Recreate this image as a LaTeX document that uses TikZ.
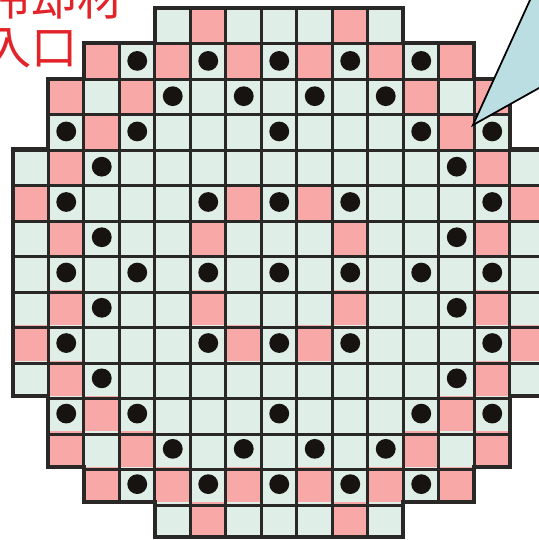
\documentclass[tikz,border=0pt]{standalone}
\usepackage{fontspec}
\usepackage{xcolor}
\usepackage{tikz}
\newfontfamily\jpfont{Noto Sans CJK JP}
\definecolor{cellgreen}{RGB}{223, 239, 232}
\definecolor{cellpink}{RGB}{249, 168, 168}
\definecolor{inkdark}{RGB}{42, 40, 38}
\definecolor{dotblack}{RGB}{22, 19, 17}
\definecolor{callblue}{RGB}{187, 222, 226}
\definecolor{labelred}{RGB}{226, 36, 42}
\tikzset{
    cell/.style   ={fill=cellgreen},
    hot/.style    ={fill=cellpink},
    gridln/.style ={draw=inkdark, line width=2.4pt},
    rim/.style    ={draw=inkdark, line width=3.2pt, line join=miter},
    rod/.style    ={fill=dotblack},
    callout/.style={fill=callblue, draw=black, line width=1.4pt, line join=miter},
    lbl/.style    ={font=\jpfont\fontsize{37}{39}\selectfont, text=labelred,
                    inner sep=0pt, align=left}
}
% outline of the core, one unit per cell
\newcommand{\coreoutline}{(4,0) -- (11,0) -- (11,-1) -- (13,-1) -- (13,-2) -- (14,-2)
  -- (14,-4) -- (15,-4) -- (15,-11) -- (14,-11) -- (14,-13) -- (13,-13) -- (13,-14)
  -- (11,-14) -- (11,-15) -- (4,-15) -- (4,-14) -- (2,-14) -- (2,-13) -- (1,-13)
  -- (1,-11) -- (0,-11) -- (0,-4) -- (1,-4) -- (1,-2) -- (2,-2) -- (2,-1) -- (4,-1) -- cycle}

\begin{document}
\begin{tikzpicture}[x=1cm, y=0.9935cm]
  \useasboundingbox (-0.366,0.227) rectangle (14.817,-15.084);
  \clip (-0.366,0.227) rectangle (14.817,-15.084);

  % ---- cells
  \fill[cell] \coreoutline;
  \foreach \c/\r in {5/0,9/0, 2/1,4/1,6/1,8/1,10/1,12/1, 1/2,3/2,11/2,13/2,
                     2/3,12/3, 1/4,13/4, 0/5,6/5,8/5,14/5, 1/6,5/6,9/6,13/6}{
    \fill[hot] (\c,-\r) rectangle ++(1,-1);
    \fill[hot] (\c,\r-14) rectangle ++(1,-1);
  }

  % ---- grid and rim
  \begin{scope}
    \clip \coreoutline;
    \draw[gridln] (0,-15) grid (15,0);
  \end{scope}
  \draw[rim] \coreoutline;

  % ---- rods
  \foreach \c/\r in {3/1,5/1,7/1,9/1,11/1, 4/2,6/2,8/2,10/2, 1/3,3/3,7/3,11/3,13/3,
                     2/4,12/4, 1/5,5/5,7/5,9/5,13/5, 2/6,12/6}{
    \fill[rod] (\c+0.5,-\r-0.5) circle (0.28);
    \fill[rod] (\c+0.5,\r-14.5) circle (0.28);
  }
  \foreach \c in {1,3,...,13}
    \fill[rod] (\c+0.5,-7.5) circle (0.28);

  % ---- callout
  \coordinate (tip) at (12.958,-3.317);
  \draw[callout] (tip) -- (16.17,3.77) -- (19.35,5.9) -- (16.68,-1.219) -- cycle;

  % ---- label
  \node[lbl, anchor=west] (inlet) at (-0.78,-0.40) {冷却材\\入口};
\end{tikzpicture}
\end{document}
